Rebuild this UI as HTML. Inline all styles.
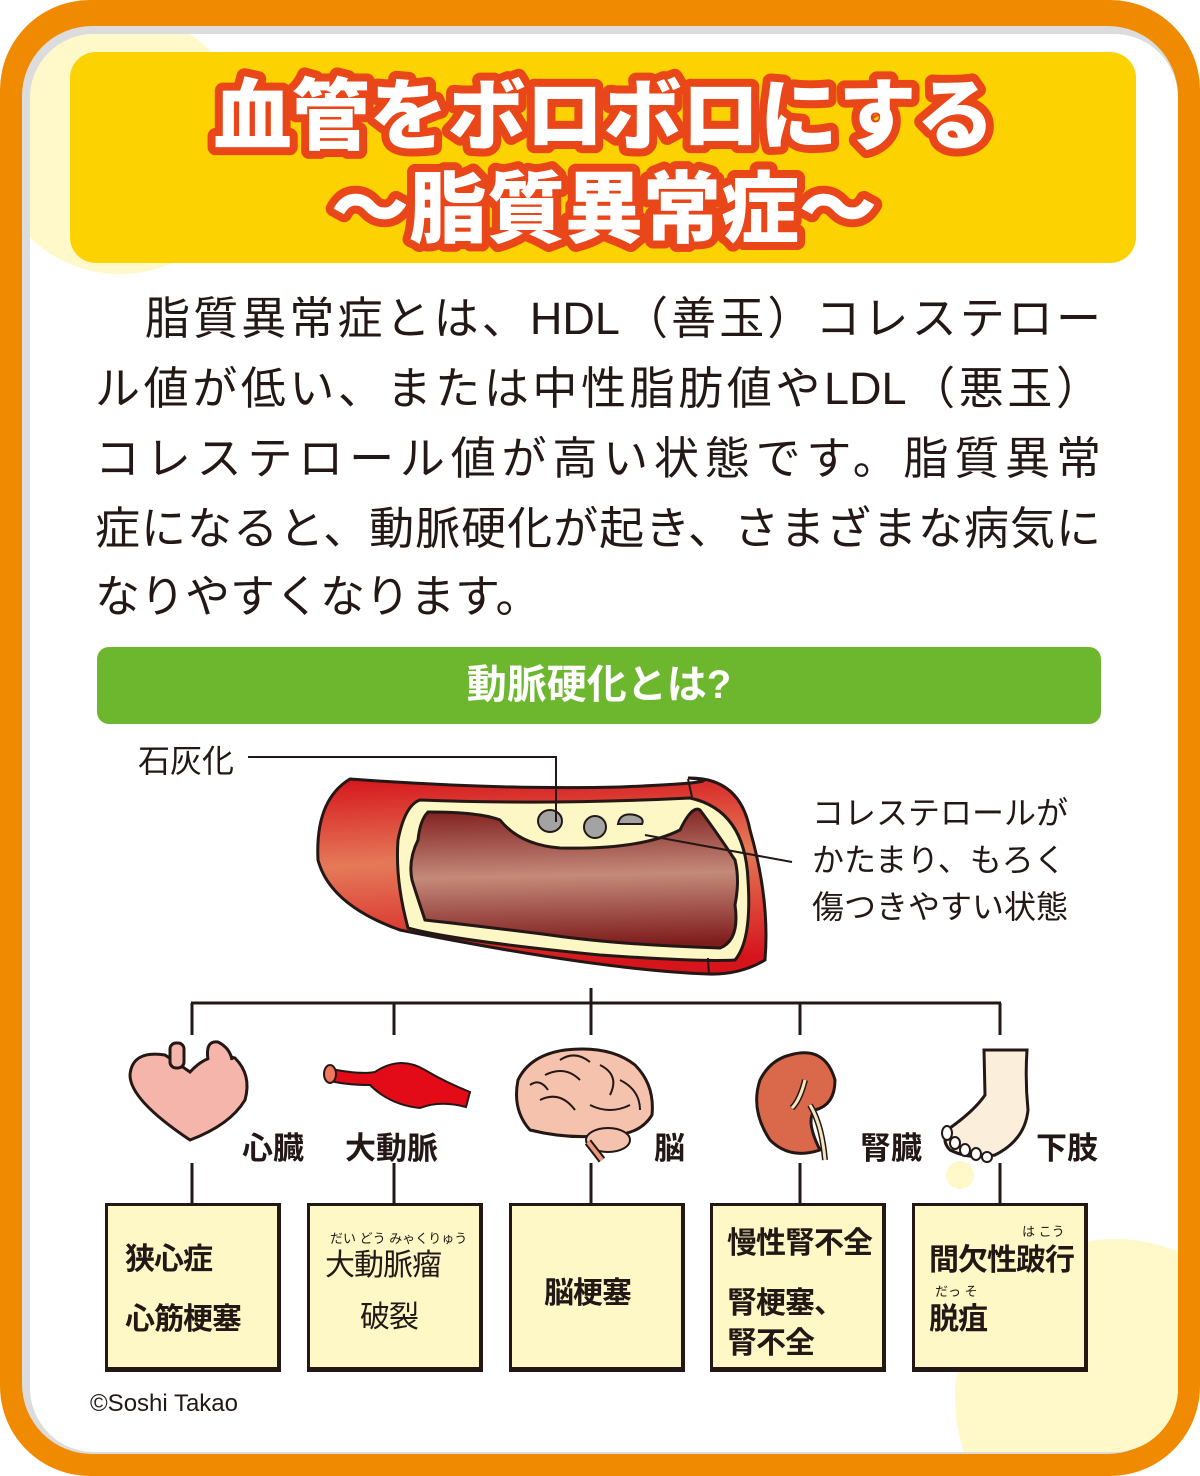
<!DOCTYPE html>
<html style="width:1200px;height:1476px;overflow:hidden"><head><meta charset="utf-8">
<style>
*{margin:0;padding:0;box-sizing:border-box}
body{width:1200px;height:1476px;position:relative;overflow:hidden;background:#fff;font-family:"Liberation Sans","Noto Sans CJK JP",sans-serif;color:#231815}
.abs{position:absolute}
.line{position:absolute;left:95px;width:1006px;font-size:45px;line-height:60px;text-align:justify;text-align-last:justify;white-space:nowrap}
.lbl{position:absolute;font-size:31px;font-weight:bold;white-space:nowrap}
.box{position:absolute;top:1203px;width:176px;height:169px;background:#fdf8c6;border:3px solid #231815;border-bottom-width:5px;border-right-width:4px}
.bt{position:absolute;font-size:30px;font-weight:bold;white-space:nowrap;letter-spacing:-1px}
.rb{position:absolute;font-size:13px;white-space:nowrap}
</style></head><body>
<div class="abs" style="left:0;top:0;width:1200px;height:1476px;background:#f08a00;border-radius:90px"></div>
<div class="abs" style="left:22px;top:26px;width:1156px;height:1428px;background:#dcdcdc;border-radius:70px"></div>
<div class="abs" style="left:30px;top:34px;width:1148px;height:1418px;background:#fff;border-radius:64px;overflow:hidden">
  <div class="abs" style="left:-40px;top:-20px;width:260px;height:260px;background:#fff8c9;border-radius:50%"></div>
  <div class="abs" style="left:925px;top:1205px;width:320px;height:320px;background:#fff8c9;border-radius:50%"></div>
</div>
<div class="abs" style="left:70px;top:52px;width:1066px;height:211px;background:#fcd200;border-radius:26px"></div>
<svg class="abs" style="left:0;top:0" width="1200" height="300">
<g font-family="'Noto Sans CJK JP',sans-serif" font-weight="900" text-anchor="middle" stroke-linejoin="round">
<text x="604" y="143" font-size="78" fill="#e9461a" stroke="#e9461a" stroke-width="16">血管をボロボロにする</text>
<text x="604" y="143" font-size="78" fill="#fff">血管をボロボロにする</text>
<text x="604" y="236" font-size="78" fill="#e9461a" stroke="#e9461a" stroke-width="16">～脂質異常症～</text>
<text x="604" y="236" font-size="78" fill="#fff">～脂質異常症～</text>
</g></svg>
<div class="line" style="top:289px;left:145px;width:956px">脂質異常症とは、HDL（善玉）コレステロー</div>
<div class="line" style="top:359px">ル値が低い、または中性脂肪値やLDL（悪玉）</div>
<div class="line" style="top:429px">コレステロール値が高い状態です。脂質異常</div>
<div class="line" style="top:499px">症になると、動脈硬化が起き、さまざまな病気に</div>
<div class="line" style="top:567px;text-align-last:left">なりやすくなります。</div>
<div class="abs" style="left:97px;top:647px;width:1004px;height:77px;background:#6db72e;border-radius:12px;color:#fff;font-size:40px;font-weight:bold;text-align:center;line-height:77px">動脈硬化とは?</div>
<div class="abs" style="left:138px;top:736px;font-size:32px;white-space:nowrap">石灰化</div>
<div class="abs" style="left:812px;top:790px;font-size:32px;line-height:47px;white-space:nowrap">コレステロールが<br>かたまり、もろく<br>傷つきやすい状態</div>
<svg class="abs" style="left:0;top:0" width="1200" height="1476">
<defs>
<linearGradient id="g1" x1="0" y1="0" x2="0.1" y2="1"><stop offset="0" stop-color="#d5141c"/><stop offset="0.45" stop-color="#e57a58"/><stop offset="1" stop-color="#d5141c"/></linearGradient>
<linearGradient id="g2" x1="0" y1="0" x2="0.05" y2="1"><stop offset="0" stop-color="#7f1d1d"/><stop offset="0.5" stop-color="#c48a7a"/><stop offset="1" stop-color="#7f1d1d"/></linearGradient>
</defs>
<path d="M350 779 Q500 790 620 787 Q740 782 688 778 L690 778 Q740 778 750 830 Q770 900 765 960 Q740 975 708 974 Q600 970 400 930 Q330 905 318 860 Q315 800 350 779Z" fill="url(#g1)" stroke="#231815" stroke-width="3"/>
<path d="M420 800 Q550 805 690 798 Q745 810 748 880 Q752 940 735 960 Q700 962 600 955 Q450 940 408 928 Q395 880 398 840 Q405 805 420 800Z" fill="#fdf7c5" stroke="#231815" stroke-width="3"/>
<path d="M428 812 Q480 812 500 820 Q520 845 560 848 Q640 850 680 830 Q692 805 700 810 Q715 830 735 860 Q740 880 735 905 Q740 940 720 948 Q620 945 550 935 Q470 925 425 920 Q415 890 412 880 Q408 860 418 840 Q420 820 428 812Z" fill="url(#g2)" stroke="#231815" stroke-width="3"/>
<line x1="688" y1="779" x2="692" y2="797" stroke="#231815" stroke-width="2"/>
<line x1="708" y1="958" x2="709" y2="975" stroke="#231815" stroke-width="2"/>
<ellipse cx="550" cy="821" rx="12" ry="11" fill="#a3a3a3" stroke="#231815" stroke-width="2"/>
<ellipse cx="595" cy="827" rx="11" ry="11" fill="#a3a3a3" stroke="#231815" stroke-width="2"/>
<path d="M618 824 Q620 812 635 815 Q645 818 642 824 Z" fill="#a3a3a3" stroke="#231815" stroke-width="2"/>
<g stroke="#231815" stroke-width="2" fill="none">
<polyline points="248,757 556,757 556,822"/>
<line x1="645" y1="835" x2="792" y2="862"/>
</g>
<g stroke="#231815" stroke-width="3" fill="none">
<line x1="191" y1="1003" x2="1001" y2="1003"/>
<line x1="591" y1="988" x2="591" y2="1035"/>
<line x1="192" y1="1003" x2="192" y2="1035"/><line x1="394" y1="1003" x2="394" y2="1035"/><line x1="800" y1="1003" x2="800" y2="1035"/><line x1="1000" y1="1003" x2="1000" y2="1035"/>
<line x1="192" y1="1163" x2="192" y2="1203"/><line x1="394" y1="1163" x2="394" y2="1203"/><line x1="591" y1="1163" x2="591" y2="1203"/><line x1="800" y1="1163" x2="800" y2="1203"/><line x1="1000" y1="1163" x2="1000" y2="1203"/>
</g>
<circle cx="960" cy="1175" r="14" fill="#fff8c9"/>
<path d="M190 1140 Q130 1100 130 1075 Q132 1050 165 1055 Q180 1065 190 1072 Q210 1050 235 1058 Q252 1075 245 1100 Q230 1125 190 1140Z" fill="#f5b5aa" stroke="#231815" stroke-width="3"/>
<rect x="170" y="1043" width="14" height="25" rx="6" fill="#f5b5aa" stroke="#231815" stroke-width="3"/>
<path d="M208 1060 Q205 1040 218 1042 Q230 1048 232 1060" fill="#f5b5aa" stroke="#231815" stroke-width="3"/>
<path d="M326 1068 Q360 1075 375 1072 Q400 1055 425 1070 Q445 1082 470 1092 L466 1107 Q440 1100 420 1108 Q390 1105 370 1085 Q345 1085 326 1080Z" fill="#e30b17" stroke="#231815" stroke-width="2"/>
<ellipse cx="330" cy="1074" rx="6" ry="9" fill="#f0775a" stroke="#231815" stroke-width="2"/>
<path d="M530 1130 Q512 1110 518 1080 Q530 1055 565 1050 Q610 1045 635 1065 Q655 1085 652 1115 Q640 1135 610 1135 Q570 1140 530 1130Z" fill="#f5c2ad" stroke="#231815" stroke-width="3"/>
<path d="M545 1075 Q565 1065 580 1080 M600 1065 Q620 1075 610 1095 M540 1100 Q560 1090 575 1110 M590 1105 Q610 1115 630 1105 M620 1080 Q640 1090 640 1110 M560 1060 Q575 1050 590 1062 M530 1085 Q540 1078 548 1090" stroke="#231815" stroke-width="2" fill="none"/>
<ellipse cx="608" cy="1140" rx="22" ry="12" fill="#f5c2ad" stroke="#231815" stroke-width="2"/>
<path d="M588 1142 L602 1160" stroke="#231815" stroke-width="8"/><path d="M588 1142 L602 1160" stroke="#e89a7a" stroke-width="4"/>
<path d="M790 1055 Q825 1045 835 1080 Q835 1105 815 1110 Q805 1120 820 1150 Q790 1160 770 1140 Q750 1110 760 1080 Q770 1060 790 1055Z" fill="#d9694a" stroke="#231815" stroke-width="3"/>
<path d="M805 1080 Q800 1100 792 1108 M810 1105 Q822 1125 825 1160" stroke="#231815" stroke-width="6" fill="none"/>
<path d="M805 1080 Q800 1100 792 1108 M810 1105 Q822 1125 825 1160" stroke="#f4e6c0" stroke-width="3" fill="none"/>
<path d="M984 1050 L1027 1050 Q1025 1080 1028 1110 Q1025 1140 995 1155 Q970 1160 950 1150 Q940 1140 950 1128 Q975 1110 985 1095Z" fill="#fbefdc" stroke="#231815" stroke-width="3"/>
<g fill="#fff" stroke="#231815" stroke-width="2"><ellipse cx="947" cy="1133" rx="5" ry="7"/><ellipse cx="955" cy="1143" rx="5" ry="6"/><ellipse cx="965" cy="1150" rx="5" ry="6"/><ellipse cx="976" cy="1154" rx="5" ry="6"/><ellipse cx="987" cy="1157" rx="5" ry="5"/></g>
</svg>
<div class="lbl" style="left:242px;top:1123px">心臓</div>
<div class="lbl" style="left:345px;top:1123px">大動脈</div>
<div class="lbl" style="left:654px;top:1123px">脳</div>
<div class="lbl" style="left:860px;top:1123px">腎臓</div>
<div class="lbl" style="left:1036px;top:1123px">下肢</div>
<div class="box" style="left:105px"></div>
<div class="box" style="left:307px"></div>
<div class="box" style="left:509px"></div>
<div class="box" style="left:710px"></div>
<div class="box" style="left:912px"></div>
<div class="bt" style="left:125px;top:1234px">狭心症</div>
<div class="bt" style="left:125px;top:1294px">心筋梗塞</div>
<div class="rb" style="left:330px;top:1228px">だい どう みゃくりゅう</div>
<div class="bt" style="left:325px;top:1240px;font-weight:normal">大動脈瘤</div>
<div class="bt" style="left:360px;top:1292px;font-weight:normal">破裂</div>
<div class="bt" style="left:544px;top:1268px">脳梗塞</div>
<div class="bt" style="left:727px;top:1218px">慢性腎不全</div>
<div class="bt" style="left:727px;top:1278px">腎梗塞、</div>
<div class="bt" style="left:727px;top:1318px">腎不全</div>
<div class="rb" style="left:1022px;top:1221px">は こう</div>
<div class="bt" style="left:929px;top:1235px">間欠性跛行</div>
<div class="rb" style="left:935px;top:1281px">だっ そ</div>
<div class="bt" style="left:929px;top:1294px">脱疽</div>
<div class="abs" style="left:90px;top:1390px;font-size:24px;white-space:nowrap">©Soshi Takao</div>
</body></html>
